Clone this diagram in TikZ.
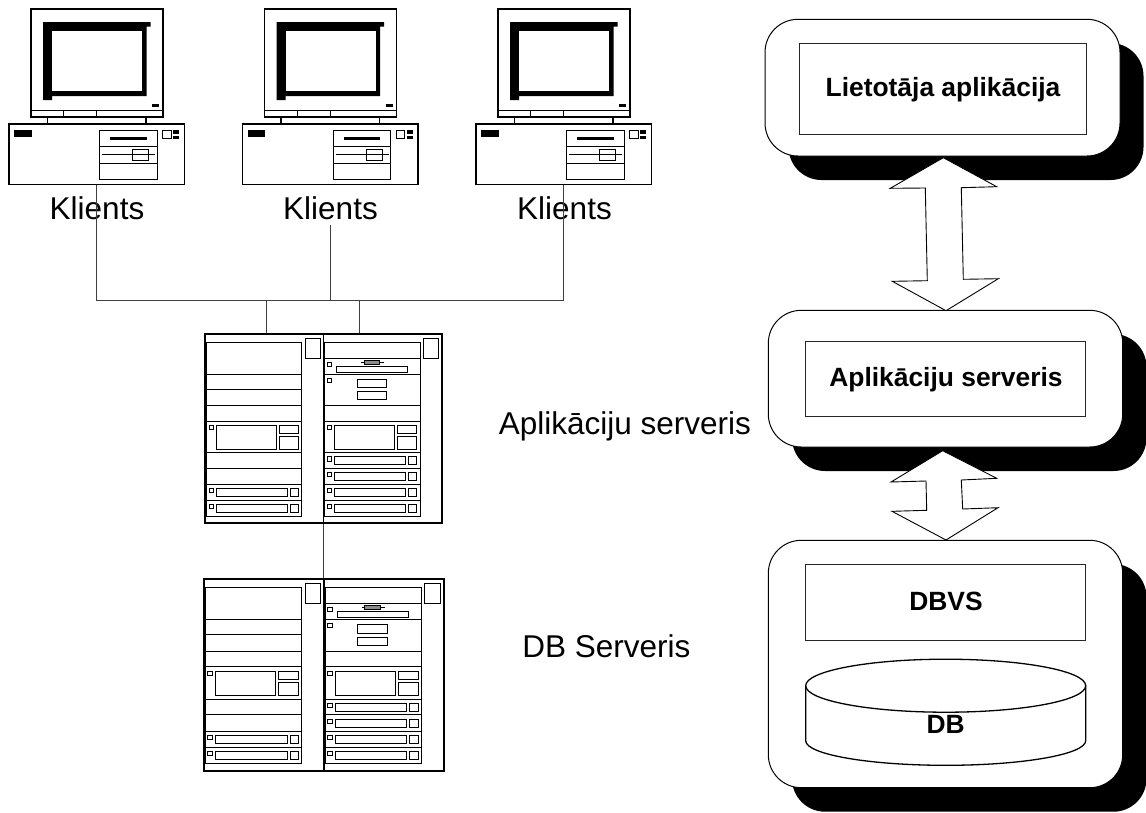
\documentclass[tikz,border=0pt]{standalone}
\usepackage{fontspec}
\setmainfont{Liberation Sans}
\tikzset{
  every picture/.style={x=1pt,y=-1pt},
  heavy/.style={draw=black,line width=1.7pt},
  thin line/.style={draw=black,line width=1pt},
  wire/.style={draw=black!75,line width=1pt},
  solid black/.style={fill=black,draw=none},
  lab/.style={inner sep=0pt,anchor=base,font=\fontsize{31.5}{36}\selectfont},
  blab/.style={inner sep=0pt,anchor=base,font=\fontsize{26.4}{30}\selectfont\bfseries},
  rbox/.style={draw=black,line width=1pt,fill=white,rounded corners=33pt},
  rshadow/.style={fill=black,draw=none,rounded corners=33pt},
  ibox/.style={draw=black!85,line width=1pt,fill=white},
  bigarrow/.style={draw=black,line width=0.9pt,fill=white,line join=miter},
}
\newcommand{\pcunit}[2]{%
  \begin{scope}[xshift=#1pt]
    \draw[heavy,fill=white] (31,9) rectangle (163,117);
    \draw[thin line] (31,110) -- (163,110) (63.5,110) -- (63.5,117) (96.7,110) -- (96.7,117);
    \fill[solid black] (43,22) -- (150.5,22) -- (150.5,26.5) -- (146.5,26.5) -- (146.5,96) -- (52,96) -- (52,100) -- (43,100) -- cycle;
    \fill[white] (52,30.5) rectangle (142,91);
    \fill[solid black] (152,103.7) rectangle (159,106.5);
    \draw[heavy] (47.5,117) -- (47.5,124) (146,117) -- (146,124);
    \draw[heavy,fill=white] (9,124) rectangle (184.5,184.5);
    \fill[solid black] (14,130) rectangle (31.5,136.5);
    \draw[thin line] (99.5,130) rectangle (157,179.5);
    \draw[thin line] (99.5,146.5) -- (157,146.5) (99.5,163) -- (157,163);
    \fill[solid black] (110,137) rectangle (146.5,140);
    \draw[thin line] (102,154.5) -- (155,154.5);
    \draw[thin line] (132.5,149.5) rectangle (148.5,160.5);
    \draw[thin line] (162.5,130.5) rectangle (171,138);
    \fill[solid black] (173,130) rectangle (179,133.5);
    \fill[solid black] (173,135.5) rectangle (179,139);
    \coordinate (#2) at (96.5,184.5);
  \end{scope}}
% tower drawn in zoom units, origin = top left of frame
\newcommand{\sq}[2]{\draw[thin line] (#1,#2) rectangle ++(13,13);}
\newcommand{\serverunit}[3]{%
  \begin{scope}[shift={(#1,#2)},x=#3pt,y=-#3pt]
    \draw[heavy] (0,0) rectangle (710,568);
    \draw[heavy] (355,0) -- (355,568);
    % left tower
    \draw[thin line] (4,25) rectangle (290,546);
    \foreach \yy in {120,166,214,261,356,403,451,499}
      \draw[thin line] (4,\yy) -- (290,\yy);
    \draw[thin line,fill=white] (300,13) rectangle (346,73);
    \sq{12}{273}
    \draw[thin line] (35,273) rectangle (213,345);
    \draw[thin line] (222,273) rectangle (280,297);
    \draw[thin line] (222,308) rectangle (280,345);
    \foreach \yy in {463,510} {
      \sq{12}{\yy}
      \draw[thin line] (35,\yy) rectangle (247,\yy+24);
      \draw[thin line] (256,\yy) rectangle (280,\yy+24);
    }
    % right tower
    \draw[thin line] (359,25) rectangle (645,546);
    \foreach \yy in {73,120,214,261,356,403,451,499}
      \draw[thin line] (359,\yy) -- (645,\yy);
    \draw[thin line,fill=white] (654,13) rectangle (700,73);
    \sq{367}{84}
    \draw[thin line] (395,96) rectangle (607,115);
    \draw[thin line] (467,85) -- (535,85);
    \draw[thin line,fill=black!45] (477,78) rectangle (523,92);
    \sq{367}{132}
    \draw[thin line] (456,136) rectangle (545,161);
    \draw[thin line] (456,173) rectangle (545,197);
    \sq{367}{273}
    \draw[thin line] (389,273) rectangle (567,345);
    \draw[thin line] (576,273) rectangle (634,297);
    \draw[thin line] (576,308) rectangle (634,345);
    \foreach \yy in {368,415,463,510} {
      \sq{367}{\yy}
      \draw[thin line] (389,\yy) rectangle (601,\yy+24);
      \draw[thin line] (609,\yy) rectangle (634,\yy+24);
    }
  \end{scope}}
\begin{document}
\begin{tikzpicture}
\useasboundingbox (0,0) rectangle (1146,812);
% bus coordinates
\coordinate (busA) at (96.5,300.5);
\coordinate (busB) at (330.5,300.5);
\coordinate (busC) at (563.5,300.5);
\coordinate (busD) at (266.5,300.5);
\coordinate (busE) at (359.5,300.5);
\coordinate (srvTopL) at (266.5,334);
\coordinate (srvTopR) at (359.5,334);
\coordinate (srvBot) at (323.9,523);
\coordinate (dbTop) at (323.9,578.7);
\coordinate (midTop) at (330.5,225);
% computers
\pcunit{0}{pcA}
\pcunit{233.5}{pcB}
\pcunit{467}{pcC}
% labels
\node[lab] (klA) at (97,219) {Klients};
\node[lab] (klB) at (330.5,219) {Klients};
\node[lab] (klC) at (564.5,219) {Klients};
% connectors
\draw[wire] (pcA) -- (busA);
\draw[wire] (midTop) -- (busB);
\draw[wire] (pcC) -- (busC);
\draw[wire] (busA) -- (busC);
\draw[wire] (busD) -- (srvTopL);
\draw[wire] (busE) -- (srvTopR);
\draw[wire] (srvBot) -- (dbTop);
% servers
\serverunit{205.3}{334}{0.33333}
\serverunit{203.7}{578.7}{0.33806}
\node[lab] (lblApp) at (625,434) {Aplikāciju serveris};
\node[lab] (lblDb) at (606.5,657) {DB Serveris};
% right stack
\fill[rshadow] (788.5,43) rectangle (1143.5,180);
\draw[rbox] (765,19.3) rectangle (1120,156);
\draw[ibox] (799,43.3) rectangle (1086.3,134.3);
\node[blab] (lietotaja) at (943,96.7) {Lietotāja aplikācija};
\fill[rshadow] (792,334) rectangle (1146.5,471);
\draw[rbox] (768.3,310.3) rectangle (1122.7,447);
\draw[ibox] (805.7,341) rectangle (1085.7,416.7);
\node[blab] (appsrv) at (946,386.7) {Aplikāciju serveris};
\fill[rshadow] (792,564) rectangle (1146.5,811.7);
\draw[rbox] (768.3,540.3) rectangle (1122.7,787.7);
\draw[ibox] (805.7,564.7) rectangle (1085.7,640.3);
\node[blab] (dbvs) at (946,610.3) {DBVS};
% cylinder
\draw[draw=black,line width=1.3pt,fill=white] (805.7,685.7) -- (805.7,740.7) arc[start angle=180,end angle=360,x radius=140,y radius=-24.6] -- (1085.7,685.7);
\draw[draw=black,line width=1.3pt,fill=white] (945.7,685.7) ellipse[x radius=140,y radius=26.5];
\node[blab] (db) at (945.7,733.3) {DB};
% double arrows
\draw[bigarrow] (943.3,157.7) -- (996.7,186.7) -- (961.3,187.7) -- (963.3,279.3) -- (998.3,278.7) -- (946,310.7) -- (892.3,281.3) -- (927.3,280.7) -- (925.3,188) -- (890.3,188.3) -- cycle;
\draw[bigarrow] (942.7,450.7) -- (996.7,478.3) -- (961.3,480) -- (962.7,509) -- (998,507.7) -- (946,540) -- (892,511.3) -- (926.7,510.3) -- (926,481) -- (891,482) -- cycle;
\end{tikzpicture}
\end{document}
